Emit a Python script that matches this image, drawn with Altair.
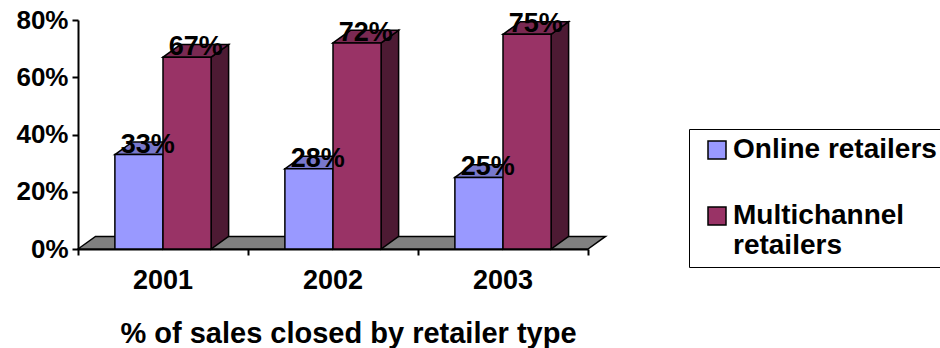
import altair as alt
import pandas as pd

# ---- data ----
years = ["2001", "2002", "2003"]
series = ["Online retailers", "Multichannel retailers"]
online = [33, 28, 25]
multichannel = [67, 72, 75]
y_ticks = [0, 20, 40, 60, 80]
x_title = "% of sales closed by retailer type"

# ---- style ----
front_colors = ["#9999FF", "#993366"]
top_colors = ["#7878CC", "#7A2952"]
side_colors = ["#4D4D80", "#4D1A33"]
floor_color = "#808080"
FONT = "Liberation Sans"

# 3-D geometry in data units (category band = 1, y in %)
BAR_W = 0.283
DX = 0.103
DY = 4.4

fronts, tops, sides, labels = [], [], [], []
for i, yr in enumerate(years):
    c = i + 0.5
    for s, (name, vals) in enumerate(zip(series, [online, multichannel])):
        v = vals[i]
        x1 = c - BAR_W if s == 0 else c
        x2 = x1 + BAR_W
        bar = f"{yr}-{s}"
        fronts.append(dict(series=name, x1=x1, x2=x2, v=v, base=0))
        tops += [
            dict(bar=bar, x=x1, y=v, y2=v, col=top_colors[s]),
            dict(bar=bar, x=x1 + DX, y=v + DY, y2=v, col=top_colors[s]),
            dict(bar=bar, x=x2, y=v + DY, y2=v, col=top_colors[s]),
            dict(bar=bar, x=x2 + DX, y=v + DY, y2=v + DY, col=top_colors[s]),
        ]
        sides += [
            dict(bar=bar, x=x2, y=v, y2=0, col=side_colors[s]),
            dict(bar=bar, x=x2 + DX, y=v + DY, y2=DY, col=side_colors[s]),
        ]
        labels.append(dict(x=(x1 + x2) / 2 + DX / 2, v=v, text=f"{v}%"))

n = len(years)
floor_df = pd.DataFrame([
    dict(x=0, y=0, y2=0),
    dict(x=DX, y=DY, y2=0),
    dict(x=n, y=DY, y2=0),
    dict(x=n + DX, y=DY, y2=DY),
])
year_df = pd.DataFrame(dict(x=[i + 0.5 for i in range(n)], year=years))

xscale = alt.Scale(domain=[0, n], nice=False, zero=False)
yscale = alt.Scale(domain=[0, 80], nice=False)

xaxis = alt.Axis(values=list(range(n + 1)), labels=False, grid=False, tickSize=6,
                 tickColor="black", tickWidth=2, domainColor="black", domainWidth=2,
                 title=x_title, titleFont=FONT, titleFontSize=29, titleFontWeight="bold",
                 titleColor="black", titleX=270, titleY=93, titleAlign="center",
                 titleBaseline="alphabetic")
yaxis = alt.Axis(values=y_ticks, labelExpr="datum.value + '%'", grid=False, tickSize=6,
                 tickColor="black", tickWidth=2, domainColor="black", domainWidth=2,
                 labelFont=FONT, labelFontSize=26, labelFontWeight="bold",
                 labelColor="black", labelPadding=4, title=None)

X = lambda f: alt.X(f, scale=xscale, axis=xaxis)
Y = lambda f: alt.Y(f, scale=yscale, axis=yaxis, stack=False)

floor = alt.Chart(floor_df).mark_area(fill=floor_color, stroke="black", strokeWidth=1.5,
                                      orient="vertical").encode(
    x=X("x:Q"), y=Y("y:Q"), y2="y2:Q",
)

side_layer = alt.Chart(pd.DataFrame(sides)).mark_area(stroke="black", strokeWidth=1.5,
                                                      orient="vertical").encode(
    x=X("x:Q"), y=Y("y:Q"), y2="y2:Q",
    fill=alt.Fill("col:N", scale=None),
    detail="bar:N",
)

top_layer = alt.Chart(pd.DataFrame(tops)).mark_area(stroke="black", strokeWidth=1.5,
                                                    orient="vertical").encode(
    x=X("x:Q"), y=Y("y:Q"), y2="y2:Q",
    fill=alt.Fill("col:N", scale=None),
    detail="bar:N",
)

front_layer = alt.Chart(pd.DataFrame(fronts)).mark_rect(stroke="black", strokeWidth=1.5).encode(
    x=X("x1:Q"), x2="x2:Q", y=Y("v:Q"), y2="base:Q",
    fill=alt.Fill("series:N", scale=alt.Scale(domain=series, range=front_colors),
                  legend=alt.Legend(
                      title=None, orient="none", legendX=611, legendY=109, padding=7,
                      strokeColor="black", fillColor="white",
                      symbolType="square", symbolSize=324, symbolStrokeColor="black",
                      symbolStrokeWidth=1.5, symbolOffset=7, labelOffset=2,
                      labelFont=FONT, labelFontSize=28, labelFontWeight="bold",
                      labelColor="black", labelLimit=400, rowPadding=38,
                      labelExpr="datum.label == 'Multichannel retailers' ? ['Multichannel', 'retailers'] : datum.label",
                  )),
)

label_layer = alt.Chart(pd.DataFrame(labels)).mark_text(
    font=FONT, fontSize=27, fontWeight="bold", baseline="alphabetic", align="center",
    dy=-2, color="black").encode(
    x=X("x:Q"), y=Y("v:Q"), text="text:N",
)

year_layer = alt.Chart(year_df).mark_text(
    font=FONT, fontSize=27, fontWeight="bold", baseline="alphabetic", align="center",
    dy=40, color="black").encode(
    x=X("x:Q"),
    y=alt.Y(datum=0, scale=yscale, axis=yaxis),
    text="year:N",
)

chart = alt.layer(floor, side_layer, top_layer, front_layer, label_layer, year_layer).properties(
    width=510, height=229,
    autosize=alt.AutoSizeParams(type="none"),
    padding={"left": 78, "top": 20, "right": 352, "bottom": 99},
    background="white",
).configure_view(stroke=None)

chart.save("out.html", embed_options={"renderer": "svg", "actions": False})
